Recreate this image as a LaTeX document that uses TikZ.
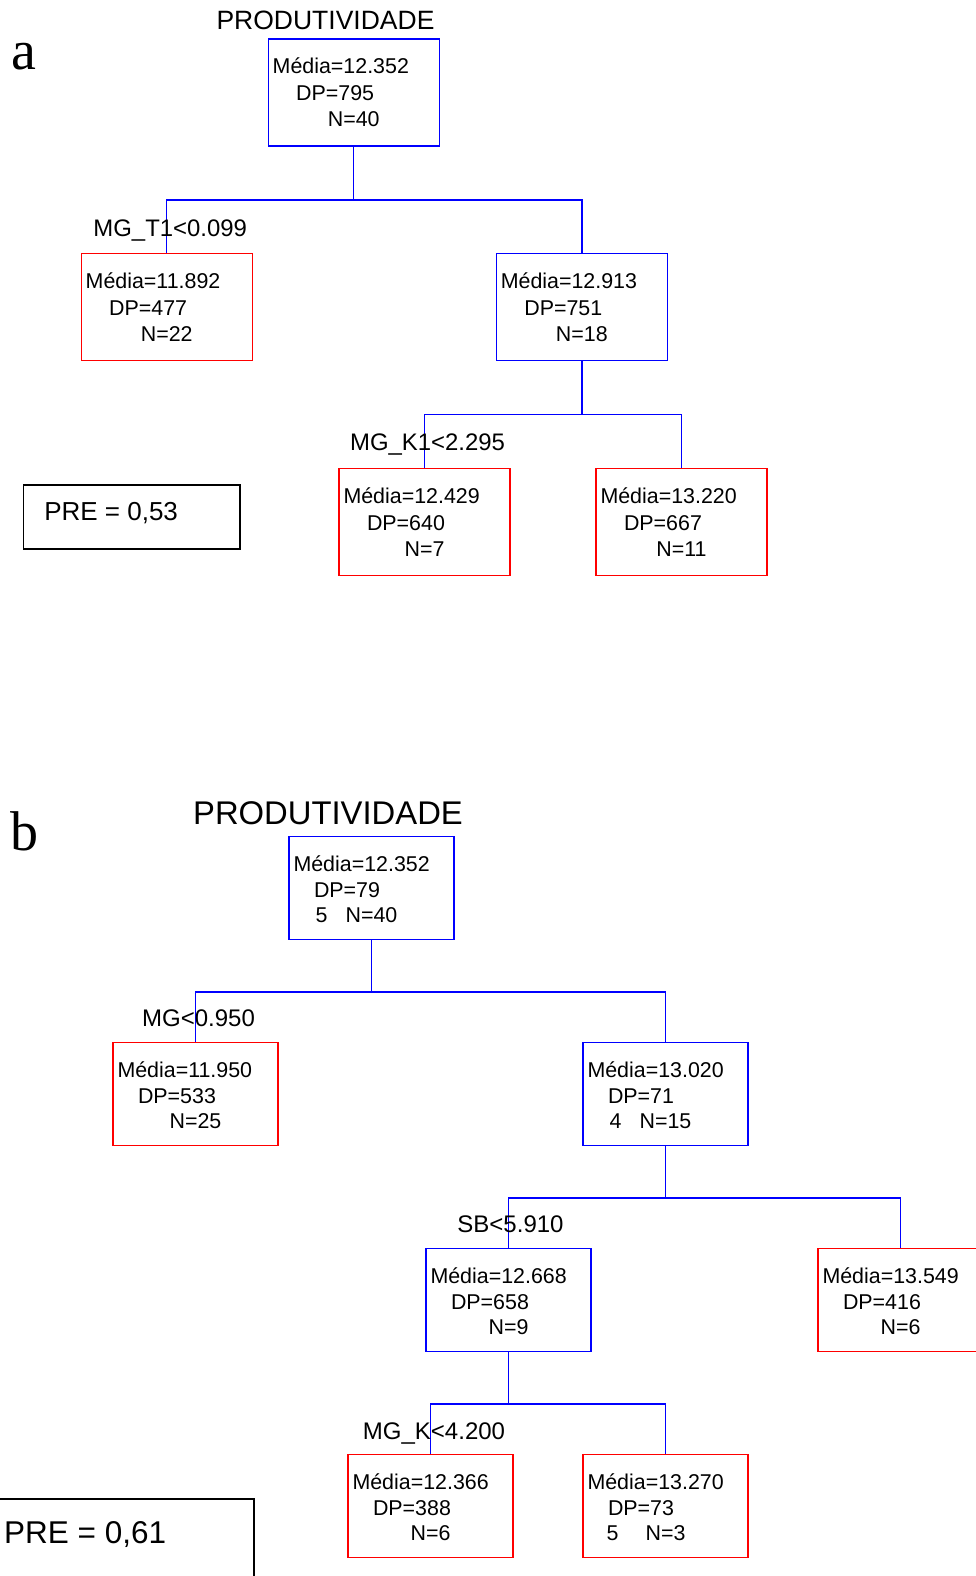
\documentclass[tikz,border=0pt]{standalone}
\usepackage{fontspec}
\setmainfont{Liberation Sans}
\newfontfamily\timesfont{Liberation Serif}
\definecolor{tblue}{RGB}{0,0,255}
\definecolor{tred}{RGB}{255,0,0}
\tikzset{
  bxa/.style={draw, line width=1.4pt, minimum width=171pt, minimum height=107pt, inner sep=0pt},
  bxb/.style={draw, line width=1.4pt, minimum width=165pt, minimum height=103pt, inner sep=0pt},
  txt/.style={inner sep=0pt, font=\fontsize{21.4}{25}\selectfont},
  lbl/.style={inner sep=0pt, anchor=base, font=\fontsize{23.9}{28}\selectfont},
  con/.style={draw=tblue, line width=1.4pt},
  prebox/.style={draw=black, line width=1.8pt, inner sep=0pt},
  ttl/.style={inner sep=0pt, anchor=base},
  panel/.style={inner sep=0pt, anchor=base west, font=\timesfont\fontsize{56}{60}\selectfont}
}
\newcommand\tboxA[7]{%
  \node[bxa,draw=#4] (#1) at (#2,#3) {};
  \node[txt,anchor=base west] (#1-m) at ([xshift=5pt,yshift=-35.5pt]#1.north west) {Média=#5};
  \node[txt,anchor=base west] (#1-d) at ([xshift=28.5pt,yshift=-62.5pt]#1.north west) {DP=#6};
  \node[txt,anchor=base] (#1-n) at ([yshift=-88.5pt]#1.north) {N=#7};
}
\newcommand\tboxB[7]{%
  \node[bxb,draw=#4] (#1) at (#2,#3) {};
  \node[txt,anchor=base west] (#1-m) at ([xshift=5pt,yshift=-35.5pt]#1.north west) {Média=#5};
  \node[txt,anchor=base west] (#1-d) at ([xshift=25.5pt,yshift=-61pt]#1.north west) {DP=#6};
  \node[txt,anchor=base] (#1-n) at ([yshift=-86.5pt]#1.north) {N=#7};
}
\begin{document}
\begin{tikzpicture}[x=1pt,y=-1pt]
\useasboundingbox (0,0) rectangle (976,1576);
\clip (0,0) rectangle (976,1576);
\fill[white] (0,0) rectangle (976,1576);

% ---------------- panel a ----------------
\node[panel] (pa) at (11.7,69.3) {a};
\node[ttl,font=\fontsize{26.5}{30}\selectfont] (ta) at (325.5,29.3) {PRODUTIVIDADE};

\tboxA{ra}{353.7}{92.5}{tblue}{12.352}{795}{40}
\tboxA{al}{166.7}{306.8}{tred}{11.892}{477}{22}
\tboxA{ar}{581.8}{306.8}{tblue}{12.913}{751}{18}
\tboxA{arl}{424.5}{521.8}{tred}{12.429}{640}{7}
\tboxA{arr}{681.5}{521.8}{tred}{13.220}{667}{11}

\coordinate (ja1) at ([yshift=-53.3pt]ra.south);
\draw[con] (ra.south) -- (ja1);
\draw[con] (al.north) |- (ja1) -| (ar.north);
\coordinate (ja2) at ([yshift=-53.6pt]ar.south);
\draw[con] (ar.south) -- (ja2);
\draw[con] (arl.north) |- (ja2) -| (arr.north);

\node[lbl] (la1) at ([xshift=3.5pt,yshift=16.6pt]al.north) {MG\_T1<0.099};
\node[lbl] (la2) at ([xshift=3pt,yshift=17.3pt]arl.north) {MG\_K1<2.295};

\node[prebox,minimum width=216.5pt,minimum height=63.7pt] (prea) at (131.7,517.2) {};
\node[inner sep=0pt,anchor=base west,font=\fontsize{26}{30}\selectfont] (preat) at ([xshift=21.5pt,yshift=-36.4pt]prea.north west) {PRE = 0,53};

% ---------------- panel b ----------------
\node[panel] (pb) at (10,850) {b};
\node[ttl,font=\fontsize{32.8}{38}\selectfont] (tb) at (328,824) {PRODUTIVIDADE};

\tboxB{rb}{371.5}{888.2}{tblue}{12.352}{79}{40}
\tboxB{bl}{195.5}{1094.2}{tred}{11.950}{533}{25}
\tboxB{br}{665.5}{1094.2}{tblue}{13.020}{71}{15}
\tboxB{brl}{508.5}{1300.2}{tblue}{12.668}{658}{9}
\tboxB{brr}{900.5}{1300.2}{tred}{13.549}{416}{6}
\tboxB{bll}{430.5}{1506.2}{tred}{12.366}{388}{6}
\tboxB{blr}{665.5}{1506.2}{tred}{13.270}{73}{3}

\node[txt,anchor=base west] (rb-x) at ([xshift=27pt,yshift=-86.5pt]rb.north west) {5};
\node[txt,anchor=base west] (br-x) at ([xshift=27pt,yshift=-86.5pt]br.north west) {4};
\node[txt,anchor=base west] (blr-x) at ([xshift=24pt,yshift=-86.5pt]blr.north west) {5};

\coordinate (jb1) at ([yshift=-51.5pt]rb.south);
\draw[con] (rb.south) -- (jb1);
\draw[con] (bl.north) |- (jb1) -| (br.north);
\coordinate (jb2) at ([yshift=-51.5pt]br.south);
\draw[con] (br.south) -- (jb2);
\draw[con] (brl.north) |- (jb2) -| (brr.north);
\coordinate (jb3) at ([yshift=-51.5pt]brl.south);
\draw[con] (brl.south) -- (jb3);
\draw[con] (bll.north) |- (jb3) -| (blr.north);

\node[lbl,font=\fontsize{24}{28}\selectfont] (lb1) at ([xshift=3pt,yshift=15.5pt]bl.north) {MG<0.950};
\node[lbl,font=\fontsize{24}{28}\selectfont] (lb2) at ([xshift=2pt,yshift=15.5pt]brl.north) {SB<5.910};
\node[lbl,font=\fontsize{24}{28}\selectfont] (lb3) at ([xshift=3.5pt,yshift=15pt]bll.north) {MG\_K<4.200};

\node[prebox,minimum width=264.3pt,minimum height=120pt] (preb) at (122.15,1559.3) {};
\node[inner sep=0pt,anchor=base west,font=\fontsize{31.5}{36}\selectfont] (prebt) at (4,1543.3) {PRE = 0,61};
\end{tikzpicture}
\end{document}
